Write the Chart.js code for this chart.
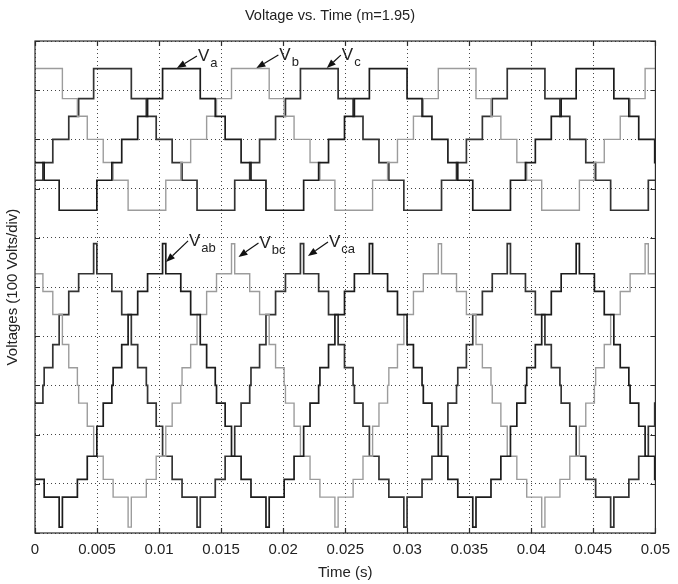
<!DOCTYPE html>
<html>
<head>
<meta charset="utf-8">
<script src="https://cdn.jsdelivr.net/npm/chart.js@4.4.1/dist/chart.umd.min.js"></script>
<style>
  html, body { margin: 0; padding: 0; background: #fff; }
  #wrap { width: 678px; height: 584px; }
</style>
</head>
<body>
<div id="wrap"><canvas id="chart" width="678" height="584"></canvas></div>
<script>
// Time axis (s)
const tickValues = [0, 0.005, 0.01, 0.015, 0.02, 0.025, 0.03, 0.035, 0.04, 0.045, 0.05];
const tickLabels = ['0', '0.005', '0.01', '0.015', '0.02', '0.025', '0.03', '0.035', '0.04', '0.045', '0.05'];
// Voltage axis: 10 divisions of 100 V, no labels
const gridVolts = [0, 100, 200, 300, 400, 500, 600, 700, 800, 900, 1000];

// 60 Hz fundamental, Va positive peak read at ~11.8 ms
const period = 1 / 60;
const peakTimeA = 0.0118;

// Phase voltages (upper traces), centred on 800 V
const phaseNames = ['Va', 'Vb', 'Vc'];
const phaseShiftDeg = [0, 120, 240];
const phaseBase = 800;
// one period of the staircase: switching angle (deg from peak) -> level (V)
const phaseStepDeg = [-32.8, 32.8, 58.9, 76.1, 103.9, 121.1, 147.2, 212.8, 238.9, 256.1, 283.9, 301.1];
const phaseStepVolts = [144, 83, 47, 0, -47, -83, -144, -83, -47, 0, 47, 83];

// Line voltages (lower traces), centred on 300 V
const lineNames = ['Vab', 'Vbc', 'Vca'];
const lineShiftDeg = [0, 120, 240];
const lineBase = 300;
const lineStepDeg = [-32.8, -27.2, -1.1, 16.1, 32.8, 43.9, 58.9, 61.1, 76.1, 87.2, 103.9, 121.1,
                     147.2, 152.8, 178.9, 196.1, 212.8, 223.9, 238.9, 241.1, 256.1, 267.2, 283.9, 301.1];
const lineStepVolts = [288, 227, 191, 144, 83, 36, 0, -36, -83, -144, -191, -227,
                       -288, -227, -191, -144, -83, -36, 0, 36, 83, 144, 191, 227];

const FONT = '"Liberation Sans", Arial, Helvetica, sans-serif';

// repeat one period of steps over the time window
function buildSteps(stepDeg, stepVolts, shiftDeg, base) {
  const edges = [];
  for (let k = -2; k <= 4; k++) {
    stepDeg.forEach((deg, i) => {
      edges.push({ x: peakTimeA + ((deg + shiftDeg) / 360 + k) * period, y: base + stepVolts[i] });
    });
  }
  edges.sort((p, q) => p.x - q.x);
  const tMin = tickValues[0];
  const tMax = tickValues[tickValues.length - 1];
  const before = edges.filter(p => p.x <= tMin);
  const pts = [{ x: tMin, y: before[before.length - 1].y }];
  edges.forEach(p => { if (p.x > tMin && p.x < tMax) pts.push(p); });
  pts.push({ x: tMax, y: pts[pts.length - 1].y });
  return pts;
}

const traceColors = ['#1c1c1c', '#9c9c9c', '#333333'];

const datasets = [];
phaseNames.forEach((name, i) => {
  datasets.push({
    label: name,
    data: buildSteps(phaseStepDeg, phaseStepVolts, phaseShiftDeg[i], phaseBase),
    borderColor: traceColors[i],
    borderWidth: i === 1 ? 1.4 : 1.7,
    stepped: true,
    pointRadius: 0,
    fill: false
  });
});
lineNames.forEach((name, i) => {
  datasets.push({
    label: name,
    data: buildSteps(lineStepDeg, lineStepVolts, lineShiftDeg[i], lineBase),
    borderColor: traceColors[i],
    borderWidth: i === 1 ? 1.4 : 1.7,
    stepped: true,
    pointRadius: 0,
    fill: false
  });
});

// box, inward ticks and arrow labels
const scopeFrame = {
  id: 'scopeFrame',
  afterDatasetsDraw(chart, args, opts) {
    const { ctx, chartArea: a, scales: { x, y } } = chart;
    ctx.save();
    ctx.strokeStyle = '#2b2b2b';
    ctx.lineWidth = 1.2;
    ctx.strokeRect(a.left, a.top, a.right - a.left, a.bottom - a.top);

    ctx.beginPath();
    x.ticks.forEach(t => {
      const px = Math.round(x.getPixelForValue(t.value)) + 0.5;
      ctx.moveTo(px, a.bottom); ctx.lineTo(px, a.bottom - 5);
      ctx.moveTo(px, a.top); ctx.lineTo(px, a.top + 5);
    });
    y.ticks.forEach(t => {
      const py = Math.round(y.getPixelForValue(t.value)) + 0.5;
      ctx.moveTo(a.left, py); ctx.lineTo(a.left + 5, py);
      ctx.moveTo(a.right, py); ctx.lineTo(a.right - 5, py);
    });
    ctx.stroke();

    opts.labels.forEach(l => {
      const tx = x.getPixelForValue(l.t);
      const ty = y.getPixelForValue(l.v);
      const sx = tx + l.dx;
      const sy = ty + l.dy;
      const ang = Math.atan2(ty - sy, tx - sx);
      const hl = 9, hw = 3.5;
      const bx = tx - hl * Math.cos(ang);
      const by = ty - hl * Math.sin(ang);
      ctx.strokeStyle = '#111';
      ctx.fillStyle = '#111';
      ctx.lineWidth = 1.2;
      ctx.beginPath();
      ctx.moveTo(sx, sy);
      ctx.lineTo(bx, by);
      ctx.stroke();
      ctx.beginPath();
      ctx.moveTo(tx, ty);
      ctx.lineTo(bx + hw * Math.sin(ang), by - hw * Math.cos(ang));
      ctx.lineTo(bx - hw * Math.sin(ang), by + hw * Math.cos(ang));
      ctx.closePath();
      ctx.fill();

      ctx.fillStyle = '#222';
      ctx.textBaseline = 'alphabetic';
      ctx.textAlign = 'left';
      ctx.font = '17px ' + FONT;
      ctx.fillText('V', sx + 1, sy + 5);
      const w = ctx.measureText('V').width;
      ctx.font = '13px ' + FONT;
      ctx.fillText(l.sub, sx + 2 + w, sy + 11);
    });
    ctx.restore();
  }
};

new Chart(document.getElementById('chart'), {
  type: 'line',
  data: { datasets: datasets },
  options: {
    responsive: false,
    animation: false,
    layout: { padding: { left: 0, right: 18, top: 0, bottom: 0 } },
    plugins: {
      legend: { display: false },
      tooltip: { enabled: false },
      title: {
        display: true,
        text: 'Voltage vs. Time (m=1.95)',
        color: '#222',
        font: { family: FONT, size: 14.6, weight: 'normal' },
        padding: { top: 7, bottom: 16.5 }
      },
      scopeFrame: {
        labels: [
          { sub: 'a',  t: 0.01144, v: 945, dx: 20, dy: -12 },
          { sub: 'b',  t: 0.01784, v: 945, dx: 22, dy: -13 },
          { sub: 'c',  t: 0.02352, v: 945, dx: 14, dy: -13 },
          { sub: 'ab', t: 0.01056, v: 551, dx: 22, dy: -21 },
          { sub: 'bc', t: 0.01640, v: 561, dx: 20, dy: -14 },
          { sub: 'ca', t: 0.02200, v: 563, dx: 20, dy: -14 }
        ]
      }
    },
    scales: {
      x: {
        type: 'linear',
        min: tickValues[0],
        max: tickValues[tickValues.length - 1],
        afterBuildTicks: s => { s.ticks = tickValues.map(v => ({ value: v })); },
        afterFit: s => { s.height = 51; },
        ticks: {
          callback: (v, i) => tickLabels[i],
          color: '#222',
          font: { family: FONT, size: 15 },
          padding: 8,
          maxRotation: 0,
          autoSkip: false
        },
        grid: { color: '#444', lineWidth: 1, drawTicks: false },
        border: { display: false, dash: [1, 3] },
        title: {
          display: true,
          text: 'Time (s)',
          color: '#222',
          font: { family: FONT, size: 15 },
          padding: { top: 0, bottom: 2 }
        }
      },
      y: {
        type: 'linear',
        min: gridVolts[0],
        max: gridVolts[gridVolts.length - 1],
        afterBuildTicks: s => { s.ticks = gridVolts.map(v => ({ value: v })); },
        afterFit: s => { s.width = 35; },
        ticks: { display: false },
        grid: { color: '#444', lineWidth: 1, drawTicks: false },
        border: { display: false, dash: [1, 3] },
        title: {
          display: true,
          text: 'Voltages (100 Volts/div)',
          color: '#222',
          font: { family: FONT, size: 15 },
          padding: { top: 4, bottom: 0 }
        }
      }
    }
  },
  plugins: [scopeFrame]
});
</script>
</body>
</html>
